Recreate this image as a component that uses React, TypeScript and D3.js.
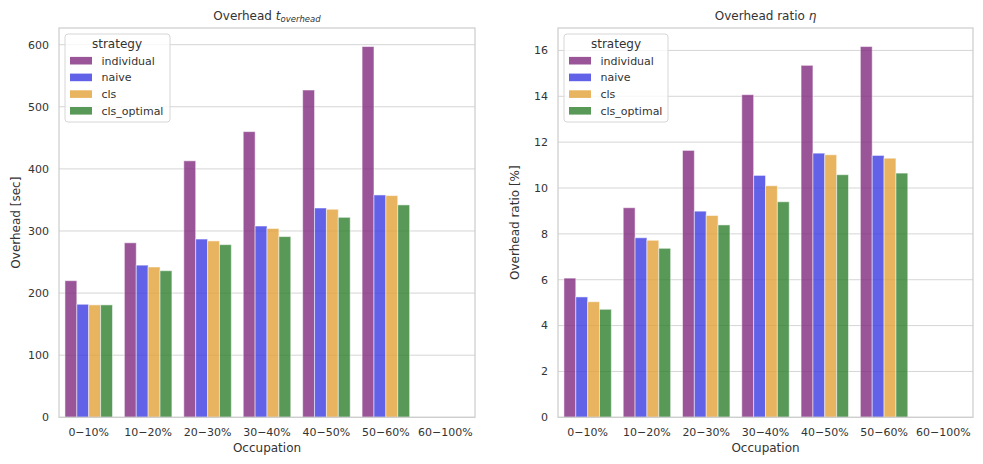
import React from "react";
import * as d3 from "d3";

// occupation bins and strategies
const categories = ["0−10%", "10−20%", "20−30%", "30−40%", "40−50%", "50−60%", "60−100%"];
const strategies = ["individual", "naive", "cls", "cls_optimal"];
const colors = ["#812a7e", "#3b3be2", "#e2a138", "#2e7f2e"];

// overhead in seconds (null = no data for that bin)
const overheadIndividual = [220, 281, 413, 460, 527, 597, null];
const overheadNaive = [182, 245, 287, 308, 337, 358, null];
const overheadCls = [181, 242, 284, 304, 335, 357, null];
const overheadClsOptimal = [181, 236, 278, 291, 322, 342, null];

// overhead ratio in %
const ratioIndividual = [6.07, 9.14, 11.64, 14.07, 15.35, 16.17, null];
const ratioNaive = [5.25, 7.83, 8.99, 10.55, 11.52, 11.42, null];
const ratioCls = [5.04, 7.72, 8.8, 10.1, 11.45, 11.3, null];
const ratioClsOptimal = [4.71, 7.37, 8.39, 9.4, 10.58, 10.65, null];

const overheadTicks = [0, 100, 200, 300, 400, 500, 600];
const ratioTicks = [0, 2, 4, 6, 8, 10, 12, 14, 16];

const W = 983;
const H = 464;
const FONT = "DejaVu Sans, sans-serif";
const TXT = "#333";
const GRID = "#d5d5d5";

type PanelProps = {
  left: number;
  right: number;
  series: (number | null)[][];
  ticks: number[];
  ylabel: string;
  title: React.ReactNode;
};

const Panel = ({ left, right, series, ticks, ylabel, title }: PanelProps) => {
  const top = 28;
  const bottom = 417.3;

  const maxV = d3.max(series.flat().filter((v): v is number => v != null)) || 1;
  const y = d3.scaleLinear().domain([0, maxV * 1.05]).range([bottom, top]);

  const x = d3.scaleBand<string>().domain(categories).range([left, right]);
  const bw = x.bandwidth();
  const inner = d3
    .scaleBand<string>()
    .domain(strategies)
    .range([0, bw * 0.8]);

  const cx = (left + right) / 2;
  const cy = (top + bottom) / 2;

  // legend geometry
  const lx = left + 6;
  const ly = 34;

  return (
    <g fontFamily={FONT}>
      {/* grid */}
      {ticks.map((t) => (
        <line key={"g" + t} x1={left} x2={right} y1={y(t)} y2={y(t)} stroke={GRID} strokeWidth={1} />
      ))}

      {/* bars */}
      {series.map((vals, si) =>
        vals.map((v, ci) =>
          v == null ? null : (
            <rect
              key={`b${si}-${ci}`}
              x={x(categories[ci])! + bw * 0.1 + inner(strategies[si])!}
              y={y(v)}
              width={inner.bandwidth()}
              height={y(0) - y(v)}
              fill={colors[si]}
              fillOpacity={0.8}
              stroke="#fff"
              strokeOpacity={0.5}
              strokeWidth={1}
            />
          )
        )
      )}

      {/* frame */}
      <rect x={left} y={top} width={right - left} height={bottom - top} fill="none" stroke="#cccccc" strokeWidth={1.2} />

      {/* y ticks */}
      {ticks.map((t) => (
        <text key={"y" + t} x={left - 10} y={y(t)} dy="0.35em" textAnchor="end" fontSize={11} fill={TXT}>
          {t}
        </text>
      ))}

      {/* x ticks */}
      {categories.map((c) => (
        <text key={"x" + c} x={x(c)! + bw / 2} y={436} textAnchor="middle" fontSize={11} fill={TXT}>
          {c}
        </text>
      ))}

      <text x={cx} y={452} textAnchor="middle" fontSize={12} fill={TXT}>
        Occupation
      </text>
      <text
        transform={`translate(${left - 39.5},${cy}) rotate(-90)`}
        textAnchor="middle"
        fontSize={12}
        fill={TXT}
      >
        {ylabel}
      </text>
      <text x={cx} y={20} textAnchor="middle" fontSize={12} fill={TXT}>
        {title}
      </text>

      {/* legend */}
      <rect
        x={lx}
        y={ly}
        width={right === 475 ? 105 : 104}
        height={88}
        rx={3}
        fill="#fff"
        fillOpacity={0.8}
        stroke="#d6d6d6"
        strokeWidth={1}
      />
      <text x={lx + 52} y={48} textAnchor="middle" fontSize={12} fill={TXT}>
        strategy
      </text>
      {strategies.map((s, i) => (
        <g key={"l" + s} transform={`translate(${lx + 5},${60.7 + i * 16.7})`}>
          <rect x={0} y={-3.8} width={22} height={7.6} fill={colors[i]} fillOpacity={0.8} />
          <text x={31.5} y={0} dy="0.35em" fontSize={11} fill={TXT}>
            {s}
          </text>
        </g>
      ))}
    </g>
  );
};

export default function App() {
  return (
    <svg
      width={W}
      height={H}
      style={{ position: "absolute", left: 0, top: 0, background: "#fff" }}
    >
      <rect width={W} height={H} fill="#fff" />
      <Panel
        left={59}
        right={475}
        series={[overheadIndividual, overheadNaive, overheadCls, overheadClsOptimal]}
        ticks={overheadTicks}
        ylabel="Overhead [sec]"
        title={
          <>
            Overhead <tspan fontStyle="italic">t</tspan>
            <tspan fontStyle="italic" fontSize={8.5} dy={2}>
              overhead
            </tspan>
          </>
        }
      />
      <Panel
        left={558}
        right={973}
        series={[ratioIndividual, ratioNaive, ratioCls, ratioClsOptimal]}
        ticks={ratioTicks}
        ylabel="Overhead ratio [%]"
        title={
          <>
            Overhead ratio <tspan fontStyle="italic">η</tspan>
          </>
        }
      />
    </svg>
  );
}
